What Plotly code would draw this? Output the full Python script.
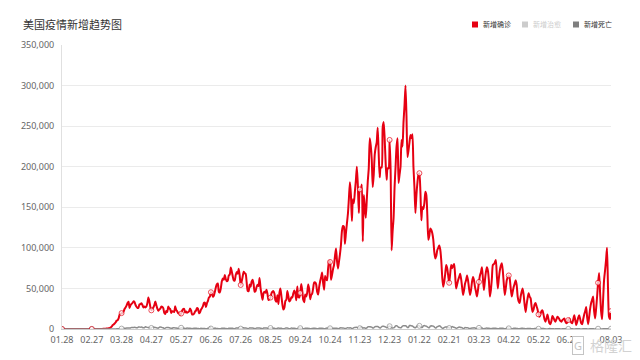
import pandas as pd
import plotly.graph_objects as go

# ---------------- data: daily new confirmed cases (新增确诊) ----------------
c_2020_01 = [0, 1, 0, 2]
c_2020_02 = [0, 1, 0, 0, 1, 0, 0, 0, 1, 0, 1, 0, 0, 0, 1, 0, 0, 0, 0, 1, 2, 0, 0, 0, 1, 0, 2, 1, 6]
c_2020_03 = [8, 23, 20, 31, 70, 48, 115, 114, 185, 293, 387, 453, 631, 693, 902, 1284, 1829, 2841, 4730, 5629,
             6870, 8068, 10329, 10673, 13052, 17501, 18573, 19544, 19460, 21368, 24705]
c_2020_04 = [26400, 28800, 32100, 33500, 26000, 29200, 31000, 32000, 34000, 33500, 29900, 27500, 25900, 26200, 30200,
             30700, 31800, 29600, 26600, 27700, 26600, 27800, 31900, 38900, 34100, 27000, 23000, 24600, 26500, 29400]
c_2020_05 = [33900, 29400, 25100, 22400, 24000, 25000, 27600, 27300, 25800, 19900, 18600, 22200, 20800, 27800, 25300,
             24600, 19800, 22000, 21500, 20900, 27900, 23600, 21900, 19500, 19500, 17300, 19000, 22700, 24600, 24900,
             20400]
c_2020_06 = [21700, 19900, 20800, 21800, 25300, 22900, 18000, 17800, 18800, 21500, 22600, 26000, 25000, 19400, 20400,
             23800, 25900, 28100, 32300, 32300, 27000, 31700, 34700, 38700, 39900, 45300, 43500, 39600, 41300, 46000]
c_2020_07 = [51500, 55000, 56100, 45700, 45200, 50400, 58900, 62300, 60800, 66600, 61300, 58800, 59800, 66000, 67200,
             75700, 71000, 64800, 59700, 59800, 66500, 70300, 68200, 74300, 65600, 54300, 58700, 64700, 70600, 68700,
             67900]
c_2020_08 = [57700, 47000, 46700, 54800, 52000, 58300, 60600, 55400, 45900, 47000, 51800, 54500, 53000, 63000, 50400,
             42400, 35900, 44100, 46000, 44600, 48400, 43000, 35700, 36800, 38700, 43900, 45900, 46700, 43500, 35300,
             33700]
c_2020_09 = [41700, 30700, 44500, 49800, 40600, 30300, 24000, 26300, 34500, 36100, 46900, 40700, 34000, 35300, 39100,
             38700, 44100, 47500, 43900, 35400, 52400, 39500, 38800, 44400, 55500, 47200, 35900, 33000, 42600, 40000]
c_2020_10 = [44800, 54900, 49100, 36800, 41800, 43500, 50400, 57400, 57400, 55000, 45900, 42400, 51500, 58600, 63800,
             69500, 56800, 48500, 65300, 61700, 60000, 74000, 83700, 82600, 60800, 66700, 73700, 78900, 90200, 99300,
             84000]
c_2020_11 = [74400, 83000, 92300, 104000, 121000, 127000, 126000, 105000, 118000, 130000, 142000, 161000, 181000,
             166000, 133000, 160000, 155000, 169000, 183000, 200000, 177000, 143000, 172000, 172000, 178000, 108000,
             165000, 150000, 137000, 159000]
c_2020_12 = [182000, 198000, 235000, 226000, 209000, 175000, 190000, 215000, 224000, 230000, 248000, 216000, 187000,
             199000, 199000, 248000, 255000, 235000, 205000, 184000, 198000, 198000, 233000, 196000, 97000, 120000,
             137000, 175000, 200000, 225000, 235000]
c_2021_01 = [180000, 190000, 200000, 233000, 225000, 255000, 275000, 300000, 262000, 212000, 220000, 230000, 239000,
             235000, 240000, 200000, 175000, 143000, 165000, 180000, 190000, 192000, 170000, 134000, 150000, 148000,
             155000, 169000, 165000, 140000, 110000]
c_2021_02 = [115000, 124000, 122000, 118000, 110000, 95000, 87000, 90000, 97000, 100000, 103000, 98000, 85000, 64000,
             52000, 58000, 68000, 79000, 75000, 66000, 57000, 68000, 79000, 75000, 78000, 80000, 66000, 50000]
c_2021_03 = [55000, 60000, 64000, 68000, 62000, 52000, 42000, 48000, 56000, 60000, 66000, 60000, 50000, 42000, 48000,
             58000, 64000, 60000, 52000, 46000, 40000, 48000, 58000, 66000, 70000, 76000, 62000, 48000, 60000, 70000,
             76000]
c_2021_04 = [72000, 60000, 40000, 48000, 62000, 79000, 80000, 82000, 85000, 66000, 50000, 62000, 72000, 78000, 81000,
             72000, 56000, 42000, 50000, 60000, 64000, 66000, 62000, 50000, 40000, 46000, 52000, 56000, 60000, 54000]
c_2021_05 = [40000, 34000, 32000, 40000, 46000, 50000, 42000, 30000, 21000, 30000, 38000, 44000, 40000, 38000, 28000,
             21000, 24000, 30000, 32000, 28000, 24000, 18000, 15000, 19000, 22000, 23000, 18000, 12000, 9000, 13000,
             18000]
c_2021_06 = [12000, 7000, 6000, 10000, 16000, 14000, 11000, 9000, 12000, 15000, 14000, 12000, 10000, 9000, 11000,
             12000, 13000, 9000, 7000, 8000, 11000, 13000, 10000, 8000, 7000, 12000, 17000, 11000, 5000, 9000]
c_2021_07 = [14000, 17000, 12000, 7000, 6000, 12000, 18000, 22000, 27000, 14000, 6000, 15000, 25000, 32000, 36000,
             40000, 22000, 13000, 25000, 40000, 57000, 69000, 45000, 22000, 12000, 35000, 60000, 72000, 85000, 100000,
             50000]
c_2021_08 = [15000, 12000, 22000]

# ---------------- data: daily new deaths (新增死亡) ----------------
d_2020_01 = [0, 0, 0, 0]
d_2020_02 = [0, 0, 0, 0, 0, 0, 0, 0, 0, 0, 0, 0, 0, 0, 0, 0, 0, 0, 0, 0, 0, 0, 0, 0, 0, 0, 0, 0, 1]
d_2020_03 = [1, 1, 3, 1, 0, 3, 2, 1, 4, 5, 8, 7, 11, 10, 13, 22, 32, 40, 59, 62, 99, 130, 170, 240, 270, 400, 460,
             520, 580, 650, 900]
d_2020_04 = [1000, 1100, 1200, 1300, 1200, 1300, 2000, 1900, 1900, 2100, 1800, 1500, 1500, 2400, 2400, 2200, 2500,
             1900, 1600, 1500, 2700, 2300, 2000, 1900, 1700, 1100, 1300, 2300, 2300, 2100]
d_2020_05 = [1800, 1600, 1200, 1100, 2100, 2400, 2200, 1700, 1500, 750, 1100, 1700, 1700, 1700, 1600, 1200, 800, 1000,
             1500, 1500, 1300, 1200, 1000, 600, 500, 700, 1500, 1200, 1200, 900, 600]
d_2020_06 = [700, 1100, 1000, 900, 900, 700, 400, 700, 900, 1000, 900, 750, 700, 350, 400, 800, 750, 700, 650, 550,
             300, 400, 800, 700, 2500, 600, 500, 300, 400, 1200]
d_2020_07 = [700, 700, 650, 250, 250, 400, 1000, 850, 950, 800, 700, 450, 400, 900, 1000, 900, 950, 800, 450, 450,
             1100, 1100, 1100, 1100, 900, 450, 550, 1400, 1400, 1300, 1300]
d_2020_08 = [1100, 500, 500, 1400, 1300, 1200, 1200, 1000, 500, 500, 1300, 1300, 1100, 1200, 1000, 600, 450, 1200,
             1300, 1100, 1100, 1000, 400, 400, 1200, 1100, 1100, 1000, 900, 400, 400]
d_2020_09 = [1000, 1100, 1000, 1000, 800, 400, 300, 400, 1100, 1100, 1100, 800, 400, 400, 1200, 1000, 900, 900, 700,
             300, 400, 900, 1100, 1000, 900, 700, 300, 300, 900, 900]
d_2020_10 = [900, 800, 700, 400, 400, 700, 900, 900, 900, 600, 400, 400, 800, 1000, 900, 900, 700, 400, 450, 900,
             1100, 900, 900, 850, 500, 500, 1000, 1000, 1000, 1000, 850]
d_2020_11 = [450, 550, 1200, 1600, 1200, 1300, 1100, 500, 700, 1400, 1500, 1200, 1400, 1300, 600, 800, 1700, 2000,
             2000, 2000, 1500, 900, 1000, 2200, 2300, 1200, 1400, 1300, 800, 1300]
d_2020_12 = [2600, 2800, 2900, 2600, 2400, 1100, 1500, 2600, 3100, 3000, 3000, 2400, 1400, 1500, 3000, 3500, 3400,
             2900, 2500, 1500, 2000, 3400, 3400, 3000, 1300, 1300, 1400, 2000, 3800, 3900, 3400]
d_2021_01 = [2000, 1900, 1400, 2000, 3700, 4000, 4100, 4000, 3400, 1800, 2000, 4400, 4200, 3900, 3700, 2500, 1800,
             1500, 2700, 4000, 4200, 3900, 2900, 1800, 1900, 3800, 4200, 3700, 3500, 2600, 1800]
d_2021_02 = [1600, 3500, 4000, 3600, 3500, 2600, 1400, 1400, 3000, 3300, 3900, 3400, 2200, 1100, 1000, 1700, 2500,
             2500, 2600, 1900, 1200, 1300, 2300, 3000, 2500, 2100, 1700, 1000]
d_2021_03 = [1100, 1800, 2500, 2100, 1800, 1600, 700, 800, 1900, 1500, 1500, 1400, 800, 600, 800, 1300, 1200, 1500,
             1200, 700, 400, 600, 1400, 1300, 1100, 1200, 700, 400, 600, 900, 1100]
d_2021_04 = [900, 1000, 700, 300, 500, 900, 1000, 900, 900, 600, 400, 400, 900, 1000, 900, 800, 600, 300, 400, 900,
             800, 800, 700, 500, 300, 400, 800, 800, 800, 700]
d_2021_05 = [600, 300, 400, 700, 800, 800, 700, 500, 250, 350, 700, 700, 650, 600, 400, 200, 300, 600, 650, 600, 500,
             300, 150, 250, 500, 550, 500, 450, 250, 150, 100]
d_2021_06 = [200, 500, 450, 350, 400, 200, 100, 200, 400, 400, 350, 300, 150, 100, 200, 350, 350, 300, 200, 100, 150,
             300, 350, 300, 250, 150, 80, 150, 300, 300]
d_2021_07 = [300, 250, 100, 50, 100, 300, 300, 300, 250, 120, 80, 150, 300, 300, 300, 250, 100, 80, 200, 300, 350,
             400, 300, 150, 100, 200, 350, 400, 450, 400, 150]
d_2021_08 = [100, 250, 400]

# (month start date, cases, deaths)
months = [
    ("2020-01-28", c_2020_01, d_2020_01), ("2020-02-01", c_2020_02, d_2020_02),
    ("2020-03-01", c_2020_03, d_2020_03), ("2020-04-01", c_2020_04, d_2020_04),
    ("2020-05-01", c_2020_05, d_2020_05), ("2020-06-01", c_2020_06, d_2020_06),
    ("2020-07-01", c_2020_07, d_2020_07), ("2020-08-01", c_2020_08, d_2020_08),
    ("2020-09-01", c_2020_09, d_2020_09), ("2020-10-01", c_2020_10, d_2020_10),
    ("2020-11-01", c_2020_11, d_2020_11), ("2020-12-01", c_2020_12, d_2020_12),
    ("2021-01-01", c_2021_01, d_2021_01), ("2021-02-01", c_2021_02, d_2021_02),
    ("2021-03-01", c_2021_03, d_2021_03), ("2021-04-01", c_2021_04, d_2021_04),
    ("2021-05-01", c_2021_05, d_2021_05), ("2021-06-01", c_2021_06, d_2021_06),
    ("2021-07-01", c_2021_07, d_2021_07), ("2021-08-01", c_2021_08, d_2021_08),
]

dates, cases, deaths = [], [], []
for start, c, d in months:
    assert len(c) == len(d), start
    ds = pd.date_range(start, periods=len(c), freq="D")
    dates.extend(ds)
    cases.extend(c)
    deaths.extend(d)
assert all((dates[i + 1] - dates[i]).days == 1 for i in range(len(dates) - 1))

n = len(dates)
# ECharts-like: symbol shown at every labelled category (every 30 days) and the last one
mark_idx = set(range(0, n, 30)) | {n - 1}
sizes = [5 if i in mark_idx else 0 for i in range(n)]

tick_idx = [i for i in range(0, n, 30) if i <= 510] + [n - 1]
tickvals = [dates[i] for i in tick_idx]
ticktext = [dates[i].strftime("%m.%d") for i in tick_idx]

RED = "#e60012"
GRAY = "#8c8c8c"

fig = go.Figure()
fig.add_trace(go.Scatter(
    x=dates, y=cases, mode="lines", name="新增确诊",
    line=dict(color=RED, width=2, shape="spline", smoothing=0.6),
    showlegend=False, hoverinfo="skip"))
fig.add_trace(go.Scatter(
    x=dates, y=deaths, mode="lines+markers", name="新增死亡",
    line=dict(color=GRAY, width=1.5, shape="spline", smoothing=0.6),
    marker=dict(size=sizes, color="white", line=dict(color=GRAY, width=1)),
    showlegend=False, hoverinfo="skip"))
fig.add_trace(go.Scatter(
    x=dates, y=cases, mode="markers", name="新增确诊",
    marker=dict(size=sizes, color="white", line=dict(color=RED, width=1)),
    showlegend=False, hoverinfo="skip"))

FONT = "Noto Sans, Noto Sans CJK SC, sans-serif"
PW, PH = 549, 284  # plot area size in px

fig.update_layout(
    width=640, height=360,
    margin=dict(l=62, r=29, t=45, b=31),
    paper_bgcolor="white", plot_bgcolor="white",
    font=dict(family=FONT, size=9, color="#666"),
    showlegend=False,
    xaxis=dict(
        type="date", range=[dates[0], dates[-1]],
        tickmode="array", tickvals=tickvals, ticktext=ticktext,
        showgrid=False, zeroline=False,
        showline=True, linecolor="#cccccc", linewidth=1,
        ticks="outside", ticklen=2, tickcolor="rgba(0,0,0,0)",
        tickfont=dict(size=9, color="#666"),
    ),
    yaxis=dict(
        range=[0, 350000], tickmode="linear", tick0=0, dtick=50000,
        tickformat=",", showgrid=True, gridcolor="#ebebeb", gridwidth=1,
        zeroline=False, showline=True, linecolor="#e0e0e0", linewidth=1,
        ticks="outside", ticklen=5, tickcolor="rgba(0,0,0,0)",
        tickfont=dict(size=9, color="#666"),
    ),
)

def px_x(x):
    return (x - 62) / PW

def px_y(y):
    return (329 - y) / PH

# title
fig.add_annotation(text="美国疫情新增趋势图", xref="paper", yref="paper",
                   x=px_x(21), y=px_y(24.5), xanchor="left", yanchor="middle",
                   showarrow=False, font=dict(family=FONT, size=11, color="#333"))

# legend (ECharts style squares)
legend_items = [("新增确诊", RED, "#333", 472), ("新增治愈", "#cccccc", "#cccccc", 522),
                ("新增死亡", "#7f7f7f", "#333", 573)]
for label, sq, tc, lx in legend_items:
    fig.add_shape(type="rect", xref="paper", yref="paper",
                  x0=px_x(lx), x1=px_x(lx + 6), y0=px_y(27.5), y1=px_y(21.5),
                  fillcolor=sq, line=dict(width=0))
    fig.add_annotation(text=label, xref="paper", yref="paper",
                       x=px_x(lx + 9), y=px_y(24.5), xanchor="left", yanchor="middle",
                       showarrow=False, font=dict(family=FONT, size=7, color=tc))

# watermark
fig.add_annotation(text="G", xref="paper", yref="paper", x=px_x(578), y=px_y(345),
                   xanchor="center", yanchor="middle", showarrow=False, bgcolor="white",
                   bordercolor="#c4c4c4", borderwidth=1, borderpad=1,
                   font=dict(family=FONT, size=11, color="#c4c4c4"))
fig.add_annotation(text="格隆汇", xref="paper", yref="paper", x=px_x(611), y=px_y(345),
                   xanchor="center", yanchor="middle", showarrow=False,
                   font=dict(family=FONT, size=14, color="#d2d2d2"))

fig.write_html("out.html", config={"displayModeBar": False},
               post_script="document.body.style.margin='0';")
